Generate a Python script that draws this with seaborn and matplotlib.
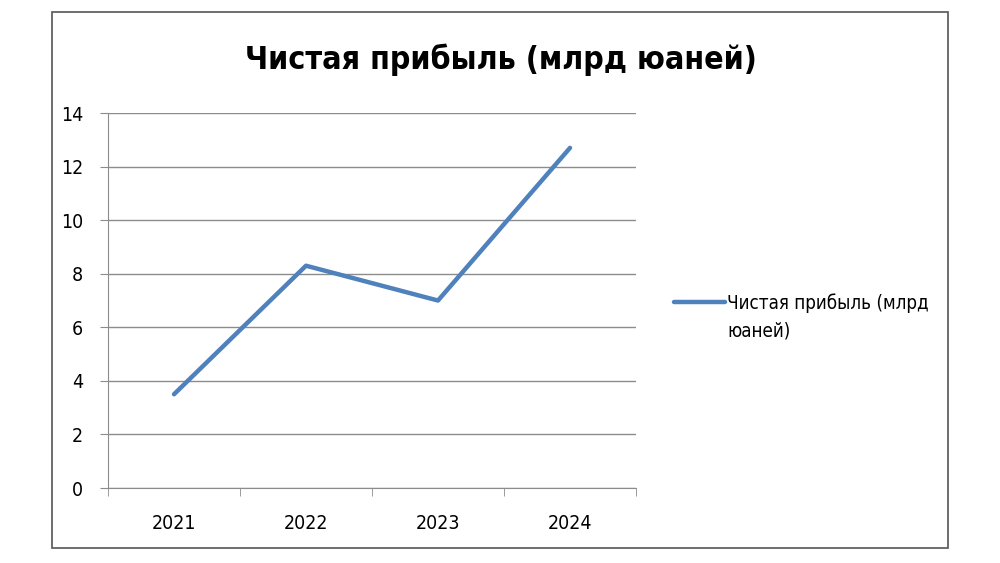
import matplotlib
matplotlib.use("Agg")
import matplotlib.pyplot as plt
import matplotlib.patches as mpatches
from matplotlib.ticker import FixedLocator, NullFormatter
from matplotlib.legend_handler import HandlerLine2D
import pandas as pd
import seaborn as sns

years = ["2021", "2022", "2023", "2024"]
profit = [3.5, 8.3, 7.0, 12.7]
legend_label = "Чистая прибыль (млрд\nюаней)"
title = "Чистая прибыль (млрд юаней)"

sns.set_style("white")
plt.rcParams['font.family'] = ['DejaVu Sans']
plt.rcParams['font.stretch'] = 'condensed'
plt.rcParams['text.color'] = 'black'
plt.rcParams['xtick.color'] = 'black'
plt.rcParams['ytick.color'] = 'black'


# legend line sits next to the first text line, like in the source chart
class HandlerTopLine(HandlerLine2D):
    def create_artists(self, legend, orig_handle, xdescent, ydescent, width, height, fontsize, trans):
        arts = super().create_artists(legend, orig_handle, xdescent, ydescent, width, height, fontsize, trans)
        for a in arts:
            a.set_ydata([y + fontsize * 0.85 for y in a.get_ydata()])
        return arts


df = pd.DataFrame({"x": range(len(years)), "y": profit})

fig = plt.figure(figsize=(10, 5.63), dpi=100)
# outer frame
fig.patches.append(mpatches.Rectangle((0.052, 0.026), 0.896, 0.952, transform=fig.transFigure,
                                      fill=False, edgecolor="#555555", linewidth=1.2))
ax = fig.add_axes([0.108, 0.1332, 0.528, 0.666])
sns.lineplot(data=df, x="x", y="y", ax=ax, color="#4F81BD", linewidth=3.2, label=legend_label)

ax.set_xlim(-0.5, 3.5)
ax.set_ylim(0, 14)
ax.set_yticks(range(0, 15, 2))
ax.yaxis.grid(True, color="#8c8c8c", linewidth=1)
ax.set_axisbelow(True)
ax.set_xticks(range(len(years)))
ax.set_xticklabels(years)
ax.xaxis.set_minor_locator(FixedLocator([-0.5, 0.5, 1.5, 2.5, 3.5]))
ax.xaxis.set_minor_formatter(NullFormatter())
ax.tick_params(axis="x", which="major", length=0, pad=19, labelsize=14)
ax.tick_params(axis="x", which="minor", length=6, color="#8c8c8c", direction="out", bottom=True)
ax.tick_params(axis="y", length=6, color="#8c8c8c", direction="out", left=True, labelsize=14, pad=12)
for s in ["top", "right"]:
    ax.spines[s].set_visible(False)
ax.spines["left"].set_color("#8c8c8c")
ax.spines["bottom"].set_color("#8c8c8c")
ax.set_xlabel("")
ax.set_ylabel("")

handles, labels = ax.get_legend_handles_labels()
leg = ax.legend(handles, labels, loc="center left", bbox_to_anchor=(1.04, 0.456), frameon=False,
                fontsize=13.5, handlelength=2.7, handletextpad=0.15,
                handler_map={type(handles[0]): HandlerTopLine()})
for t in leg.get_texts():
    t.set_linespacing(1.55)

fig.text(0.501, 0.893, title, ha="center", va="center", fontsize=23, fontweight="bold")

fig.savefig("out.png", dpi=100)
